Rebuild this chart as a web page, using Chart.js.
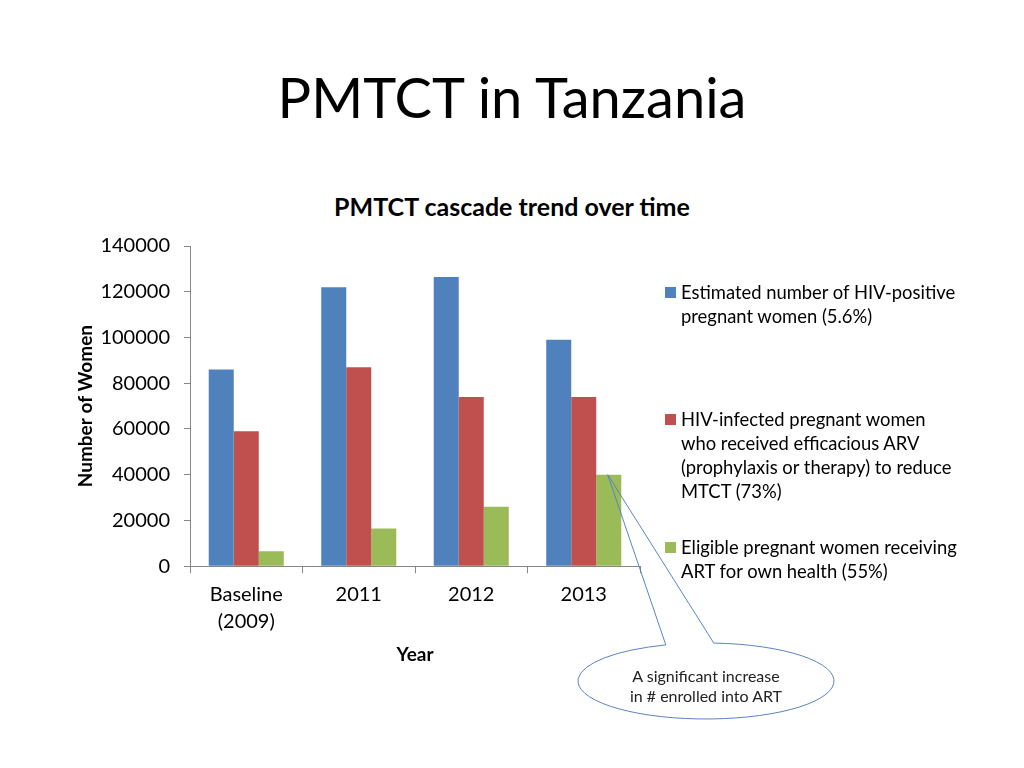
<!DOCTYPE html>
<html>
<head>
<meta charset="utf-8">
<script src="https://cdn.jsdelivr.net/npm/chart.js@4"></script>
<style>
  html, body { margin: 0; padding: 0; background: #fff; }
  body { width: 1024px; height: 768px; position: relative; overflow: hidden; font-family: Lato, "Open Sans", sans-serif; color: #000; }
  #chart { position: absolute; left: 0; top: 0; }
  .abs { position: absolute; white-space: nowrap; }
  #slideTitle { left: 0; width: 1024px; top: 62px; text-align: center; font-size: 56px; line-height: 70px; }
  #chartTitle { left: 0; width: 1024px; top: 191px; text-align: center; font-size: 25px; font-weight: bold; line-height: 30px; }
  .leg { position: absolute; left: 665px; font-size: 18.4px; line-height: 24px; }
  .leg .sw { position: absolute; left: 0; top: 7px; width: 11px; height: 11px; }
  .leg .tx { position: absolute; left: 16px; top: 0; white-space: nowrap; }
  #note { left: 578px; width: 256px; top: 666px; text-align: center; font-size: 16px; line-height: 20px; color: #222; }
</style>
</head>
<body>
<div id="slideTitle" class="abs">PMTCT in Tanzania</div>
<div id="chartTitle" class="abs">PMTCT cascade trend over time</div>
<canvas id="chart" width="1024" height="768"></canvas>
<div id="legend"></div>
<div id="note" class="abs">A significant increase<br>in # enrolled into ART</div>

<script>
const categories = [['Baseline', '(2009)'], '2011', '2012', '2013'];
const seriesNames = [
  ['Estimated number of HIV-positive', 'pregnant women (5.6%)'],
  ['HIV-infected pregnant women', 'who received efficacious ARV', '(prophylaxis or therapy) to reduce', 'MTCT (73%)'],
  ['Eligible pregnant women receiving', 'ART for own health (55%)']
];
const estimatedPositive = [86000, 122000, 126500, 99000];
const receivedArv = [59000, 87000, 74000, 74000];
const receivingArt = [6500, 16500, 26000, 40000];
const yTicks = [0, 20000, 40000, 60000, 80000, 100000, 120000, 140000];

const colors = ['#4F81BD', '#C0504D', '#9BBB59'];
const legendTops = [280, 407, 535];

// legend, built from the series names
const legendEl = document.getElementById('legend');
seriesNames.forEach((lines, i) => {
  const d = document.createElement('div');
  d.className = 'leg';
  d.style.top = legendTops[i] + 'px';
  d.innerHTML = '<div class="sw" style="background:' + colors[i] + '"></div><div class="tx">' + lines.join('<br>') + '</div>';
  legendEl.appendChild(d);
});

// speech bubble pointing at the 2013 ART bar
const calloutPlugin = {
  id: 'callout',
  afterDatasetsDraw(chart) {
    const bar = chart.getDatasetMeta(2).data[3];
    const tipX = bar.x - 1, tipY = bar.y;
    const cx = 706, cy = 681, rx = 128, ry = 38;
    const a1 = -1.89, a2 = -1.51;
    const ctx = chart.ctx;
    ctx.save();
    ctx.beginPath();
    ctx.ellipse(cx, cy, rx, ry, 0, a2, a1 + Math.PI * 2, false);
    ctx.lineTo(tipX, tipY);
    ctx.closePath();
    ctx.strokeStyle = '#5B83BF';
    ctx.lineWidth = 1;
    ctx.stroke();
    ctx.restore();
  }
};

const ctx = document.getElementById('chart').getContext('2d');
new Chart(ctx, {
  type: 'bar',
  data: {
    labels: categories,
    datasets: [
      { label: seriesNames[0].join(' '), data: estimatedPositive, backgroundColor: colors[0] },
      { label: seriesNames[1].join(' '), data: receivedArv, backgroundColor: colors[1] },
      { label: seriesNames[2].join(' '), data: receivingArt, backgroundColor: colors[2] }
    ]
  },
  options: {
    responsive: false,
    animation: false,
    devicePixelRatio: 1,
    layout: { padding: { left: 64, right: 384, top: 246, bottom: 102 } },
    plugins: { legend: { display: false }, title: { display: false }, tooltip: { enabled: false } },
    datasets: { bar: { categoryPercentage: 0.667, barPercentage: 1.0 } },
    scales: {
      x: {
        grid: { offset: true, drawOnChartArea: false, drawTicks: true, tickLength: 7, color: '#868686' },
        border: { color: '#868686' },
        ticks: { color: '#000', font: { family: 'Lato', size: 20, lineHeight: 1.35 }, padding: 8, maxRotation: 0 },
        title: { display: true, text: 'Year', color: '#000', font: { family: 'Lato', size: 19, weight: 'bold' }, padding: { top: 0, bottom: 0 } }
      },
      y: {
        min: 0,
        max: 140000,
        afterBuildTicks(scale) { scale.ticks = yTicks.map(v => ({ value: v })); },
        afterFit(scale) { scale.width = 190 - 64; },
        grid: { drawOnChartArea: false, drawTicks: true, tickLength: 6, color: '#868686' },
        border: { color: '#868686' },
        ticks: { color: '#000', font: { family: 'Lato', size: 20 }, padding: 14, callback: v => String(v) },
        title: { display: true, text: 'Number of Women', color: '#000', font: { family: 'Lato', size: 19, weight: 'bold' }, padding: { top: 10, bottom: 0 } }
      }
    }
  },
  plugins: [calloutPlugin]
});
</script>
</body>
</html>
